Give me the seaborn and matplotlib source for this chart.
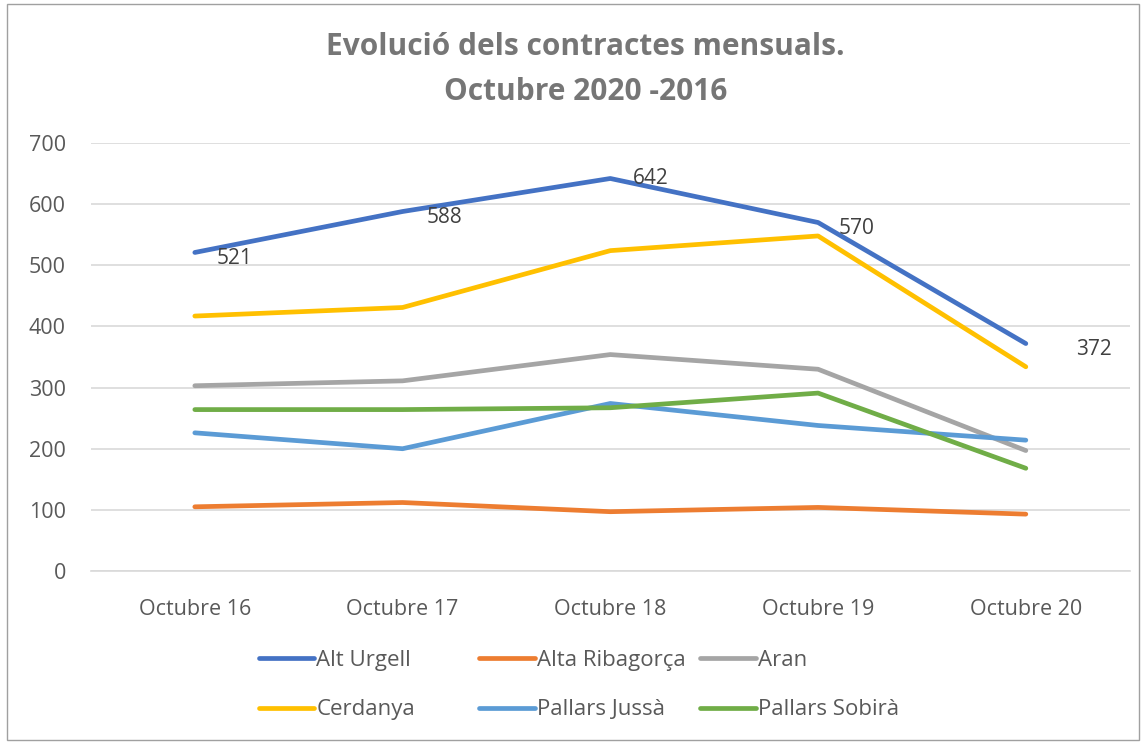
import pandas as pd
import seaborn as sns
import matplotlib.pyplot as plt
from matplotlib.patches import Rectangle

# data
months = ["Octubre 16", "Octubre 17", "Octubre 18", "Octubre 19", "Octubre 20"]
alt_urgell = [521, 588, 642, 570, 372]
alta_ribagorca = [105, 112, 97, 104, 93]
aran = [303, 311, 354, 330, 197]
cerdanya = [417, 431, 524, 548, 334]
pallars_jussa = [226, 200, 274, 238, 214]
pallars_sobira = [264, 264, 267, 291, 168]

comarques = ["Alt Urgell", "Alta Ribagorça", "Aran",
             "Cerdanya", "Pallars Jussà", "Pallars Sobirà"]
series = [alt_urgell, alta_ribagorca, aran, cerdanya, pallars_jussa, pallars_sobira]
colors = ["#4472C4", "#ED7D31", "#A5A5A5", "#FFC000", "#5B9BD5", "#70AD47"]

rows = []
for name, vals in zip(comarques, series):
    for i, v in enumerate(vals):
        rows.append({"mes": i, "comarca": name, "contractes": v})
df = pd.DataFrame(rows)

sns.set_theme(style="white")
plt.rcParams["font.family"] = ["Open Sans", "DejaVu Sans"]

fig = plt.figure(figsize=(11.44, 7.43), dpi=100)
ax = fig.add_axes([0.0795, 0.2315, 0.908, 0.576])

sns.lineplot(data=df, x="mes", y="contractes", hue="comarca",
             hue_order=comarques, palette=colors, linewidth=3.4,
             ax=ax, legend=False)

ax.set_xlim(-0.5, 4.5)
ax.set_ylim(0, 700)
ax.set_yticks(range(0, 701, 100))
ax.set_xticks(range(len(months)))
ax.set_xticklabels(months)
ax.set_xlabel("")
ax.set_ylabel("")
ax.yaxis.grid(True, color="#D9D9D9", linewidth=1.2)
ax.set_axisbelow(True)
for s in ["top", "right", "left"]:
    ax.spines[s].set_visible(False)
ax.spines["bottom"].set_color("#D9D9D9")
ax.spines["bottom"].set_linewidth(1.2)
ax.tick_params(axis="both", colors="#595959", labelsize=15.5, length=0)
ax.tick_params(axis="x", pad=20)
ax.tick_params(axis="y", pad=18)

# data labels on Alt Urgell
label_offsets = [(16, -4), (17, -4), (16, 0), (15, -4), (36, -4)]
for i, v in enumerate(alt_urgell):
    ax.annotate(str(v), (i, v), xytext=label_offsets[i], textcoords="offset points",
                ha="left", va="center", fontsize=15, color="#404040")

fig.text(0.512, 0.906, "Evolució dels contractes mensuals.\nOctubre 2020 -2016",
         ha="center", va="center", fontsize=21.5, fontweight="bold",
         color="#767676", linespacing=1.65)

# legend: 3 fixed-width columns, 2 rows
col_x = [0.226, 0.419, 0.612]
for c in range(3):
    idx = [c, c + 3]
    handles = [plt.Line2D([], [], color=colors[k], linewidth=3.4) for k in idx]
    fig.legend(handles, [comarques[k] for k in idx], loc="center left",
               bbox_to_anchor=(col_x[c], 0.078), ncol=1, frameon=False,
               fontsize=16, labelcolor="#595959", handlelength=2.5,
               handletextpad=0.1, labelspacing=1.29, borderpad=0,
               borderaxespad=0)

fig.patches.append(Rectangle((0.006, 0.004), 0.99, 0.99, transform=fig.transFigure,
                             fill=False, edgecolor="#A0A0A0", linewidth=1))

fig.savefig("out.png", dpi=100)
